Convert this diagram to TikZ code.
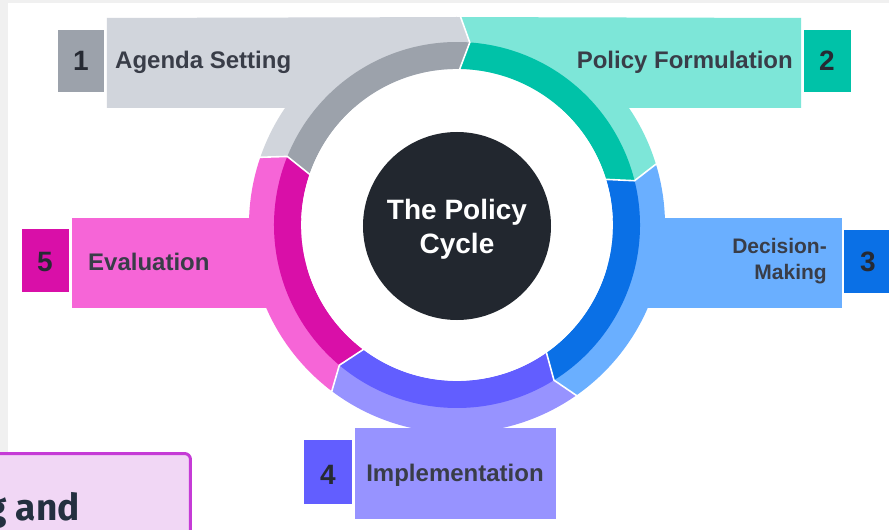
\documentclass[tikz,border=0pt]{standalone}
\usepackage{fontspec}
\setmainfont{Liberation Sans}
\newfontfamily\firafont{Fira Sans}
\usetikzlibrary{calc}
\definecolor{greyL}{HTML}{D1D5DC}
\definecolor{greyD}{HTML}{9CA2AB}
\definecolor{greenL}{HTML}{7DE6D8}
\definecolor{greenD}{HTML}{00C2A8}
\definecolor{blueL}{HTML}{6AAFFF}
\definecolor{blueD}{HTML}{0A70E6}
\definecolor{purpL}{HTML}{9793FF}
\definecolor{purpD}{HTML}{625EFF}
\definecolor{pinkL}{HTML}{F665D7}
\definecolor{pinkD}{HTML}{D90FA8}
\definecolor{labelC}{HTML}{393D48}
\definecolor{numC}{HTML}{262A33}
\definecolor{centerC}{HTML}{22272F}
\definecolor{bgstrip}{HTML}{F0F0F0}
\definecolor{boxFill}{HTML}{F1D7F5}
\definecolor{boxBorder}{HTML}{C53BD6}
\definecolor{andC}{HTML}{243040}
\newcommand\ringlight[3]{%
  \pgfmathsetmacro\la{#1-3}\pgfmathsetmacro\ta{#2-3}%
  \fill[#3] (#2:208pt) arc[start angle=#2, end angle=#1, radius=208pt] -- (\la:183pt) -- (#1:156pt) arc[start angle=#1, end angle=#2, radius=156pt] -- (\ta:183pt) -- cycle;}
\newcommand\ringdark[3]{%
  \pgfmathsetmacro\la{#1-3}\pgfmathsetmacro\ta{#2-3}%
  \fill[#3] (\ta:183pt) arc[start angle=\ta, end angle=\la, radius=183pt] -- (#1:156pt) arc[start angle=#1, end angle=#2, radius=156pt] -- cycle;}
\newcommand\sepline[1]{%
  \pgfmathsetmacro\la{#1-3}%
  \draw[white, line width=1.6pt, line join=round] (#1:150pt) -- (#1:156pt) -- (\la:183pt) -- (#1:208pt) -- (#1:211pt);}
\begin{document}
\begin{tikzpicture}[x=1pt,y=1pt,
  lab/.style={font=\fontsize{24}{28}\selectfont\bfseries, text=labelC, inner sep=0pt},
  num/.style={font=\fontsize{28}{32}\selectfont\bfseries, text=numC, inner sep=0pt}]
\useasboundingbox (-457,-305) rectangle (432,225);
\fill[bgstrip] (-457,-305) rectangle (432,225);
\fill[white] (-449,-305) rectangle (432,222);
% partial box bottom left
\draw[draw=boxBorder, fill=boxFill, line width=3pt, rounded corners=6pt] (-475,-335) rectangle (-266.5,-228.5);
\node[anchor=base east, font=\firafont\fontsize{37}{40}\selectfont\bfseries, text=andC, inner sep=0pt] (andtxt) at (-377,-295) {g and};
% light parts
\fill[greyL] (-350,207) -- (89:208pt) -- (86:183pt) -- (12.8,117) -- (-350,117) -- cycle;
\fill[greenL] (89:208pt) -- (344,207) -- (344,117) -- (12.8,117) -- (86:183pt) -- cycle;
\fill[blueL] (150,7) rectangle (385,-83);
\fill[purpL] (-102,-203) rectangle (99,-294);
\fill[pinkL] (-385,7) rectangle (-150,-83);
\ringlight{89}{161}{greyL}
\ringlight{17}{89}{greenL}
\ringlight{-55}{17}{blueL}
\ringlight{-127}{-55}{purpL}
\ringlight{-199}{-127}{pinkL}
% dark parts
\ringdark{89}{161}{greyD}
\ringdark{17}{89}{greenD}
\ringdark{-55}{17}{blueD}
\ringdark{-127}{-55}{purpD}
\ringdark{-199}{-127}{pinkD}
\fill[white] (0,0) circle (155.8pt);
\sepline{89}
\sepline{17}
\sepline{-55}
\sepline{-127}
\sepline{161}
% number boxes
\fill[greyD] (-399,195) rectangle (-353,133);
\fill[greenD] (347,195) rectangle (394,133);
\fill[blueD] (387,-5) rectangle (443,-68);
\fill[purpD] (-153,-215) rectangle (-105,-279);
\fill[pinkD] (-435,-4) rectangle (-388,-67);
% texts
\node[num] (n1) at (-376,164) {1};
\node[lab, anchor=west] (t1) at (-342,163) {Agenda Setting};
\node[num] (n2) at (370,164) {2};
\node[lab, anchor=east] (t2) at (336,163) {Policy Formulation};
\node[num] (n3) at (411,-37) {3};
\node[lab, anchor=east, align=right, font=\fontsize{21}{26}\selectfont\bfseries] (t3) at (370,-36) {Decision-\\Making};
\node[num] (n4) at (-129,-250) {4};
\node[lab] (t4) at (-2,-250) {Implementation};
\node[num] (n5) at (-412,-37) {5};
\node[lab, anchor=west] (t5) at (-369,-37) {Evaluation};
% centre
\node[circle, fill=centerC, minimum size=188pt, inner sep=0pt] (core) at (0,-1) {};
\node[font=\fontsize{28}{34}\selectfont\bfseries, text=white, align=center, inner sep=0pt] (coretxt) at (0,-4) {The Policy\\Cycle};
\end{tikzpicture}
\end{document}
